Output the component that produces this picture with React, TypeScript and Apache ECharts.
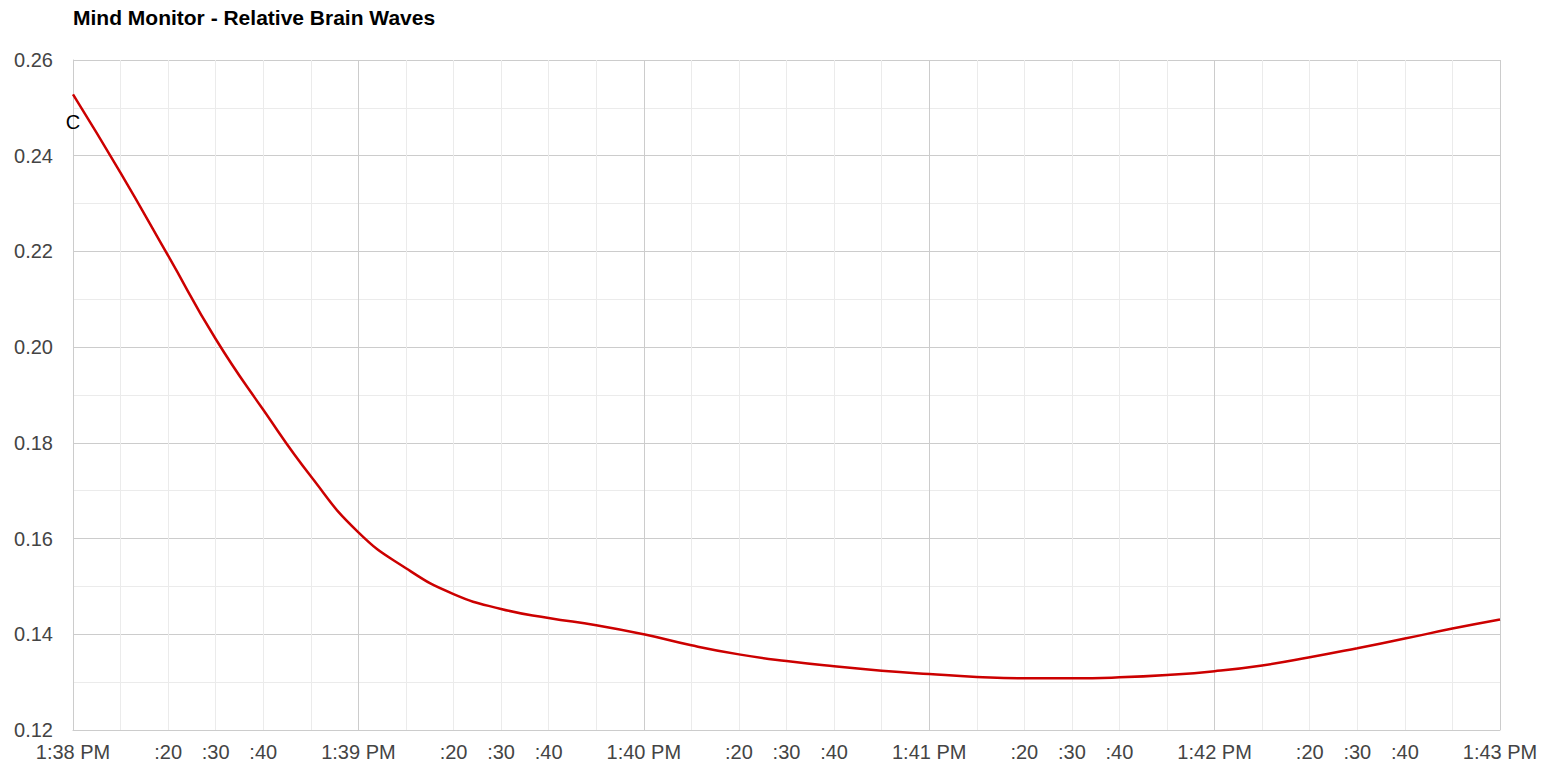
import React, { useEffect, useRef } from 'react';
import * as echarts from 'echarts';

// seconds after 1:38:00 PM
const seconds = [0, 10, 20, 30, 40, 50, 60, 70, 80, 90, 100, 110, 120, 130, 140, 150, 160, 170, 180, 190, 200, 210, 220, 230, 240, 250, 260, 270, 280, 290, 300];
const relativeValues = [
  0.2528, 0.2364, 0.2191, 0.2017, 0.1869, 0.1730, 0.1613, 0.1538, 0.1484, 0.1453,
  0.1434, 0.1419, 0.1400, 0.1377, 0.1358, 0.1344, 0.1333, 0.1324, 0.1317, 0.1311,
  0.1308, 0.1308, 0.1310, 0.1315, 0.1323, 0.1335, 0.1352, 0.1371, 0.1391, 0.1412,
  0.1431,
];
const minuteLabels = ['1:38 PM', '1:39 PM', '1:40 PM', '1:41 PM', '1:42 PM', '1:43 PM'];
const secondLabels = [':20', ':30', ':40'];
const seriesLabel = 'C';
const titleText = 'Mind Monitor - Relative Brain Waves';

const FONT = 'Arial, "Liberation Sans", Helvetica, sans-serif';

export default function App() {
  const ref = useRef<HTMLDivElement>(null);
  useEffect(() => {
    if (!ref.current) return;
    const chart = echarts.init(ref.current, undefined, { renderer: 'svg' });
    const data = seconds.map((s, i) => [s, relativeValues[i]]);
    chart.setOption({
      animation: false,
      backgroundColor: '#ffffff',
      textStyle: { fontFamily: FONT },
      title: {
        text: titleText,
        left: 73,
        top: 7,
        padding: 0,
        textStyle: { fontSize: 21, fontWeight: 'bold', color: '#000000', fontFamily: FONT },
      },
      grid: { left: 73, right: 49, top: 60, bottom: 46, containLabel: false },
      xAxis: {
        type: 'value',
        min: 0,
        max: 300,
        interval: 10,
        axisLine: { show: true, lineStyle: { color: '#cccccc', width: 1 } },
        axisTick: { show: false },
        splitLine: {
          show: true,
          lineStyle: { color: ['#cccccc', '#ebebeb', '#ebebeb', '#ebebeb', '#ebebeb', '#ebebeb'], width: 1 },
        },
        axisLabel: {
          show: true,
          fontSize: 20,
          color: '#444444',
          fontFamily: FONT,
          margin: 12,
          showMinLabel: true,
          showMaxLabel: true,
          formatter: (v: number) => {
            const s = Math.round(v);
            if (s % 60 === 0) return minuteLabels[s / 60] ?? '';
            const r = s % 60;
            const lbl = ':' + r;
            return secondLabels.indexOf(lbl) >= 0 ? lbl : '';
          },
        },
      },
      yAxis: {
        type: 'value',
        min: 0.12,
        max: 0.26,
        interval: 0.01,
        axisLine: { show: true, lineStyle: { color: '#cccccc', width: 1 } },
        axisTick: { show: false },
        splitLine: { show: true, lineStyle: { color: ['#cccccc', '#ebebeb'], width: 1 } },
        axisLabel: {
          show: true,
          fontSize: 20,
          color: '#444444',
          fontFamily: FONT,
          margin: 20,
          formatter: (v: number) => {
            const h = Math.round(v * 100);
            return h % 2 === 0 ? (h / 100).toFixed(2) : '';
          },
        },
      },
      series: [
        {
          type: 'line',
          name: seriesLabel,
          data,
          smooth: 0.5,
          showSymbol: false,
          symbol: 'none',
          lineStyle: { color: '#cc0000', width: 2.5 },
          itemStyle: { color: '#cc0000' },
          markPoint: {
            symbol: 'circle',
            symbolSize: 1,
            itemStyle: { color: 'rgba(0,0,0,0)' },
            label: {
              show: true,
              position: 'bottom',
              distance: 17,
              formatter: seriesLabel,
              color: '#000000',
              fontSize: 20,
              fontFamily: FONT,
            },
            data: [{ coord: data[0], value: seriesLabel }],
          },
        },
      ],
    });
    return () => chart.dispose();
  }, []);
  return (
    <div
      ref={ref}
      style={{ position: 'fixed', left: 0, top: 0, width: 1549, height: 776, background: '#fff' }}
    />
  );
}
